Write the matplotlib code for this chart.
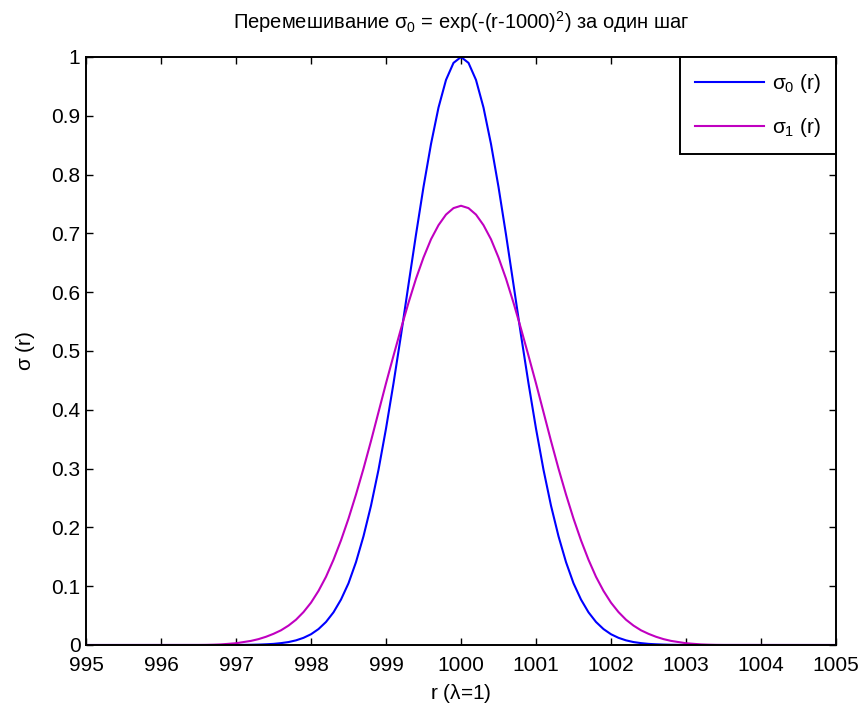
import numpy as np
import matplotlib
matplotlib.use("Agg")
import matplotlib.pyplot as plt

plt.rcParams['font.family'] = ['Liberation Sans', 'DejaVu Sans']
plt.rcParams['mathtext.fontset'] = 'custom'
plt.rcParams['mathtext.rm'] = 'Liberation Sans'
plt.rcParams['mathtext.it'] = 'Liberation Sans'
plt.rcParams['mathtext.bf'] = 'Liberation Sans'

# r grid (995, 996.5 ... 1003.5 step 0.1, 1005)
r_inner = [round(996.5 + 0.1 * i, 1) for i in range(71)]
r = [995.0] + r_inner + [1005.0]

sigma0_inner = [
    0.0000, 0.0000, 0.0000, 0.0000, 0.0000, 0.0001, 0.0002, 0.0004, 0.0007, 0.0012,
    0.0019, 0.0032, 0.0050, 0.0079, 0.0122, 0.0183, 0.0271, 0.0392, 0.0556, 0.0773,
    0.105, 0.141, 0.185, 0.237, 0.298, 0.368, 0.445, 0.527, 0.613, 0.698,
    0.779, 0.852, 0.914, 0.961, 0.990, 1.000, 0.990, 0.961, 0.914, 0.852,
    0.779, 0.698, 0.613, 0.527, 0.445, 0.368, 0.298, 0.237, 0.185, 0.141,
    0.105, 0.0773, 0.0556, 0.0392, 0.0271, 0.0183, 0.0122, 0.0079, 0.0050, 0.0032,
    0.0019, 0.0012, 0.0007, 0.0004, 0.0002, 0.0001, 0.0000, 0.0000, 0.0000, 0.0000,
    0.0000,
]
sigma1_inner = [
    0.0001, 0.0002, 0.0005, 0.001, 0.002, 0.003, 0.005, 0.007, 0.010, 0.014,
    0.019, 0.025, 0.033, 0.043, 0.056, 0.072, 0.092, 0.116, 0.145, 0.178,
    0.215, 0.256, 0.300, 0.347, 0.396, 0.445, 0.492, 0.538, 0.582, 0.623,
    0.659, 0.690, 0.714, 0.732, 0.743, 0.747, 0.743, 0.732, 0.714, 0.690,
    0.659, 0.623, 0.582, 0.538, 0.492, 0.445, 0.396, 0.347, 0.300, 0.256,
    0.215, 0.178, 0.145, 0.116, 0.092, 0.072, 0.056, 0.043, 0.033, 0.025,
    0.019, 0.014, 0.010, 0.007, 0.005, 0.003, 0.002, 0.001, 0.0005, 0.0002,
    0.0001,
]
sigma0 = [0.0] + sigma0_inner + [0.0]
sigma1 = [0.0] + sigma1_inner + [0.0]

xticks = [995, 996, 997, 998, 999, 1000, 1001, 1002, 1003, 1004, 1005]
yticks = [0, 0.1, 0.2, 0.3, 0.4, 0.5, 0.6, 0.7, 0.8, 0.9, 1]
ytick_labels = ['0', '0.1', '0.2', '0.3', '0.4', '0.5', '0.6', '0.7', '0.8', '0.9', '1']

fig = plt.figure(figsize=(8.64, 7.11), dpi=100)
ax = fig.add_axes([86 / 864, 66 / 711, 750 / 864, 588 / 711])

ax.plot(r, sigma0, color='#0000FF', lw=1.5, label=r'$\sigma_0$ (r)')
ax.plot(r, sigma1, color='#C000C0', lw=1.5, label=r'$\sigma_1$ (r)')

ax.set_xlim(995, 1005)
ax.set_ylim(0, 1)
ax.set_xticks(xticks)
ax.set_xticklabels([str(v) for v in xticks])
ax.set_yticks(yticks)
ax.set_yticklabels(ytick_labels)
ax.tick_params(direction='in', length=5, width=1, top=True, right=True,
               labelsize=15)
ax.tick_params(axis='x', pad=8)
ax.tick_params(axis='y', pad=4)
for s in ax.spines.values():
    s.set_linewidth(1.4)

ax.set_title(r'Перемешивание $\sigma_0$ = exp(-(r-1000)$^2$) за один шаг',
             fontsize=14.5, pad=20)
ax.set_xlabel(r'r ($\lambda$=1)', fontsize=15, labelpad=5)
ax.set_ylabel(r'$\sigma$ (r)', fontsize=15, labelpad=10)

leg = ax.legend(loc='upper right', borderaxespad=0, fancybox=False,
                edgecolor='black', fontsize=15, handlelength=3.3,
                handletextpad=0.4, framealpha=1, borderpad=0.72,
                labelspacing=1.0)
leg.get_frame().set_linewidth(1.4)

fig.savefig('out.png', dpi=100)
